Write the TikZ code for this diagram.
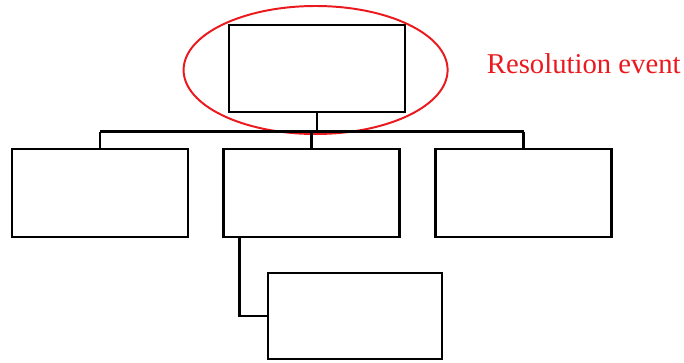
\documentclass[tikz,border=0pt]{standalone}
\usepackage{fontspec}
\setmainfont{Liberation Serif}
\usepackage{tikz}
\usetikzlibrary{positioning,shapes.geometric,calc}
\definecolor{evred}{RGB}{235,25,30}

\begin{document}
\begin{tikzpicture}[
  box/.style={draw, rectangle, minimum width=4.4cm, minimum height=2.2cm, line width=1.9pt, inner sep=0pt},
  ell/.style={draw=evred, ellipse, minimum width=6.6cm, minimum height=3.2cm, line width=1.4pt},
  link/.style={line width=1.9pt},
]
\useasboundingbox (0,0) rectangle (17.1,9.05);
\node[box, minimum height=2.175cm] (root) at (7.925,7.3375) {};
\node[ell] (evt) at (7.89,7.3) {};
\node[anchor=base west, text=evred, font=\fontsize{20.4}{24}\selectfont] (evtlbl) at (12.05,7.225) {Resolution event};
\node[box] (left) at (2.5,4.225) {};
\node[box] (mid) at (7.79,4.225) {};
\node[box] (right) at (13.09,4.225) {};
\node[box, minimum width=4.35cm, minimum height=2.15cm] (sub) at (8.875,1.15) {};
\coordinate (barL) at (2.5,5.76);
\coordinate (barR) at (13.09,5.76);
\draw[link] (root.south) -- (root.south |- barL);
\draw[link] (barL) -- (barR);
\draw[link] (barL) -- (left.north);
\draw[link] (mid.north |- barL) -- (mid.north);
\draw[link] (barR) -- (right.north);
\draw[link] ($(mid.south west)+(0.425,0)$) |- (sub.west);
\end{tikzpicture}
\end{document}
